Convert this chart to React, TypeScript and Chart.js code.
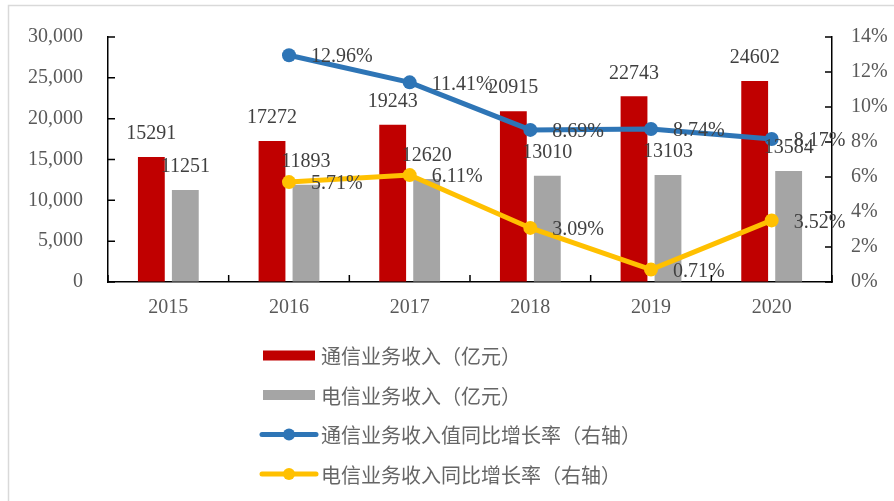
import { useEffect, useRef } from 'react';
import { Chart, registerables } from 'chart.js';

Chart.register(...registerables);

const years = ['2015', '2016', '2017', '2018', '2019', '2020'];
const commRevenue = [15291, 17272, 19243, 20915, 22743, 24602];
const telecomRevenue = [11251, 11893, 12620, 13010, 13103, 13584];
const commGrowth = [null, 12.96, 11.41, 8.69, 8.74, 8.17];
const telecomGrowth = [null, 5.71, 6.11, 3.09, 0.71, 3.52];

const legendLabels = [
  '通信业务收入（亿元）',
  '电信业务收入（亿元）',
  '通信业务收入值同比增长率（右轴）',
  '电信业务收入同比增长率（右轴）',
];

const RED = '#C00000';
const GRAY = '#A5A5A5';
const BLUE = '#2E75B6';
const YELLOW = '#FFC000';
const TEXT = '#595959';
const LABEL = '#404040';
const SERIF = '"Liberation Serif", "Times New Roman", serif';
const CJK = '"Noto Sans CJK SC", "Noto Sans", sans-serif';

const customPlugin = {
  id: 'customDraw',
  beforeDraw(chart: any) {
    const ctx = chart.ctx;
    ctx.save();
    ctx.fillStyle = '#fff';
    ctx.fillRect(0, 0, chart.width, chart.height);
    ctx.strokeStyle = '#D9D9D9';
    ctx.lineWidth = 1.5;
    ctx.beginPath();
    ctx.moveTo(8.5, chart.height);
    ctx.lineTo(8.5, 5.5);
    ctx.lineTo(chart.width, 5.5);
    ctx.stroke();
    ctx.restore();
  },
  afterDatasetsDraw(chart: any) {
    const ctx = chart.ctx;
    ctx.save();
    ctx.font = `20px ${SERIF}`;
    ctx.fillStyle = LABEL;
    [0, 1].forEach((di) => {
      const meta = chart.getDatasetMeta(di);
      const data = chart.data.datasets[di].data;
      meta.data.forEach((el: any, i: number) => {
        const v = data[i];
        if (v == null) return;
        ctx.textAlign = 'center';
        ctx.textBaseline = 'middle';
        ctx.fillText(String(v), el.x, el.y - 23);
      });
    });
    [2, 3].forEach((di) => {
      const meta = chart.getDatasetMeta(di);
      const data = chart.data.datasets[di].data;
      meta.data.forEach((el: any, i: number) => {
        const v = data[i];
        if (v == null) return;
        ctx.textAlign = 'left';
        ctx.textBaseline = 'middle';
        ctx.fillText(Number(v).toFixed(2) + '%', el.x + 22, el.y + 2);
      });
    });
    ctx.restore();
  },
  afterDraw(chart: any) {
    const ctx = chart.ctx;
    const area = chart.chartArea;
    const y = chart.scales.y;
    const y1 = chart.scales.y1;
    const x = chart.scales.x;
    ctx.save();
    ctx.strokeStyle = '#000';
    ctx.lineWidth = 1.5;
    ctx.beginPath();
    y.ticks.forEach((t: any) => {
      const py = y.getPixelForValue(t.value);
      ctx.moveTo(area.left, py);
      ctx.lineTo(area.left + 7, py);
    });
    y1.ticks.forEach((t: any) => {
      const py = y1.getPixelForValue(t.value);
      ctx.moveTo(area.right, py);
      ctx.lineTo(area.right - 7, py);
    });
    for (let i = 0; i <= years.length; i++) {
      const px = x.getPixelForValue(i - 0.5);
      ctx.moveTo(px, area.bottom);
      ctx.lineTo(px, area.bottom - 7);
    }
    ctx.stroke();

    const lx0 = 262;
    const lx1 = 316;
    const tx = 321;
    const rows = [355.5, 395, 434.5, 474];
    const colors = [RED, GRAY, BLUE, YELLOW];
    ctx.font = `20px ${CJK}`;
    ctx.textAlign = 'left';
    ctx.textBaseline = 'middle';
    rows.forEach((ry, i) => {
      if (i < 2) {
        ctx.fillStyle = colors[i];
        ctx.fillRect(lx0 + 1, ry - 5, lx1 - lx0 - 2, 10);
      } else {
        ctx.strokeStyle = colors[i];
        ctx.lineWidth = 5;
        ctx.lineCap = 'round';
        ctx.beginPath();
        ctx.moveTo(lx0, ry);
        ctx.lineTo(lx1, ry);
        ctx.stroke();
        ctx.fillStyle = colors[i];
        ctx.beginPath();
        ctx.arc((lx0 + lx1) / 2, ry, 6, 0, Math.PI * 2);
        ctx.fill();
      }
      ctx.fillStyle = '#666666';
      ctx.fillText(legendLabels[i], tx, ry + 1);
    });
    ctx.restore();
  },
};

export default function App() {
  const ref = useRef<HTMLCanvasElement>(null);
  useEffect(() => {
    document.body.style.margin = '0';
    const chart = new Chart(ref.current as HTMLCanvasElement, {
      type: 'bar',
      data: {
        labels: years,
        datasets: [
          {
            type: 'bar',
            label: legendLabels[0],
            data: commRevenue,
            backgroundColor: RED,
            yAxisID: 'y',
            order: 2,
            categoryPercentage: 0.563,
            barPercentage: 0.79,
          },
          {
            type: 'bar',
            label: legendLabels[1],
            data: telecomRevenue,
            backgroundColor: GRAY,
            yAxisID: 'y',
            order: 2,
            categoryPercentage: 0.563,
            barPercentage: 0.79,
          },
          {
            type: 'line',
            label: legendLabels[2],
            data: commGrowth,
            borderColor: BLUE,
            backgroundColor: BLUE,
            borderWidth: 5,
            pointRadius: 7,
            pointBorderWidth: 0,
            pointBackgroundColor: BLUE,
            yAxisID: 'y1',
            order: 1,
          },
          {
            type: 'line',
            label: legendLabels[3],
            data: telecomGrowth,
            borderColor: YELLOW,
            backgroundColor: YELLOW,
            borderWidth: 5,
            pointRadius: 7,
            pointBorderWidth: 0,
            pointBackgroundColor: YELLOW,
            yAxisID: 'y1',
            order: 1,
          },
        ] as any,
      },
      options: {
        responsive: false,
        animation: false,
        layout: { padding: { left: 0, right: 0, top: 33, bottom: 179 } },
        plugins: { legend: { display: false }, tooltip: { enabled: false } },
        scales: {
          x: {
            offset: true,
            grid: { display: true, drawOnChartArea: false, drawTicks: false, offset: true },
            border: { display: true, color: '#000', width: 1.5 },
            ticks: { color: TEXT, font: { family: SERIF, size: 20 }, padding: 14 },
            afterFit: (s: any) => { s.height = 40; },
          },
          y: {
            position: 'left',
            min: 0,
            max: 30000,
            grid: { display: true, drawOnChartArea: false, drawTicks: false },
            border: { display: true, color: '#000', width: 1.5 },
            ticks: {
              stepSize: 5000,
              color: TEXT,
              font: { family: SERIF, size: 20 },
              padding: 25,
              callback: (v: any) => Number(v).toLocaleString('en-US'),
            },
            afterFit: (s: any) => { s.width = 108; },
          },
          y1: {
            position: 'right',
            min: 0,
            max: 14,
            grid: { display: true, drawOnChartArea: false, drawTicks: false },
            border: { display: true, color: '#000', width: 1.5 },
            ticks: {
              stepSize: 2,
              color: TEXT,
              font: { family: SERIF, size: 20 },
              padding: 19,
              callback: (v: any) => v + '%',
            },
            afterFit: (s: any) => { s.width = 62; },
          },
        },
      } as any,
      plugins: [customPlugin],
    });
    return () => chart.destroy();
  }, []);
  return (
    <canvas
      ref={ref}
      width={894}
      height={501}
      style={{ display: 'block', width: 894, height: 501 }}
    />
  );
}
